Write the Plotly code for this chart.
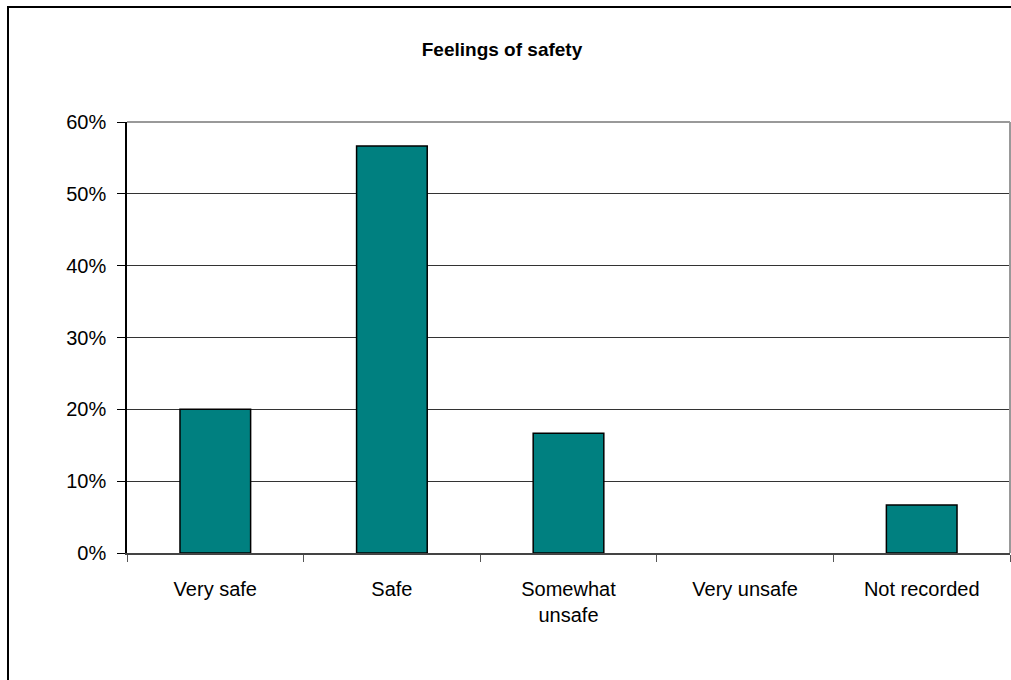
import plotly.graph_objects as go

categories = ["Very safe", "Safe", "Somewhat<br>unsafe", "Very unsafe", "Not recorded"]
values = [20.0, 56.67, 16.67, 0.0, 6.67]
y_ticks = [0, 10, 20, 30, 40, 50, 60]
y_tick_labels = ["0%", "10%", "20%", "30%", "40%", "50%", "60%"]

W, H = 1011, 680
L, T = 127, 122
R = 1
B = H - 553
pw, ph = W - L - R, H - T - B


def px_to_paper_x(px):
    return (px - L) / pw


def px_to_paper_y(py):
    return 1 - (py - T) / ph


outline_widths = [0 if v == 0 else 1.5 for v in values]

fig = go.Figure(go.Bar(
    x=categories, y=values,
    marker=dict(color="#008080", line=dict(color="black", width=outline_widths)),
))

fig.update_layout(
    width=W, height=H,
    margin=dict(l=L, r=R, t=T, b=B),
    paper_bgcolor="white", plot_bgcolor="white",
    bargap=0.6,
    showlegend=False,
    font=dict(family="Liberation Sans, Arial", size=20, color="black"),
    title=dict(text="<b>Feelings of safety</b>", x=px_to_paper_x(502), xref="paper",
               xanchor="center", y=1 - 49 / H, yanchor="middle",
               font=dict(size=19, family="Liberation Sans, Arial")),
    xaxis=dict(
        type="category", showline=True, linecolor="#444444", linewidth=1.5,
        ticks="outside", tickson="boundaries", ticklen=7, tickcolor="#555555",
        ticklabelstandoff=17, showgrid=False,
        tickfont=dict(size=20),
    ),
    yaxis=dict(
        range=[0, 60], tickvals=y_ticks, ticktext=y_tick_labels,
        showline=True, linecolor="black", linewidth=1.5,
        ticks="outside", ticklen=8, tickcolor="black",
        showgrid=True, gridcolor="#333333", gridwidth=1,
        zeroline=False, ticklabelstandoff=7,
        tickfont=dict(size=20),
    ),
    shapes=[
        dict(type="line", xref="paper", yref="paper", x0=0, x1=1, y0=1, y1=1,
             line=dict(color="#999999", width=2)),
        dict(type="line", xref="paper", yref="paper", x0=1, x1=1, y0=0, y1=1,
             line=dict(color="#999999", width=2)),
        dict(type="rect", xref="paper", yref="paper",
             x0=px_to_paper_x(8), x1=px_to_paper_x(1030),
             y0=px_to_paper_y(700), y1=px_to_paper_y(7),
             line=dict(color="black", width=2), fillcolor="rgba(0,0,0,0)"),
    ],
)

fig.write_html("out.html", config={"displayModeBar": False},
               post_script="document.body.style.margin='0';document.body.style.overflow='hidden';")
